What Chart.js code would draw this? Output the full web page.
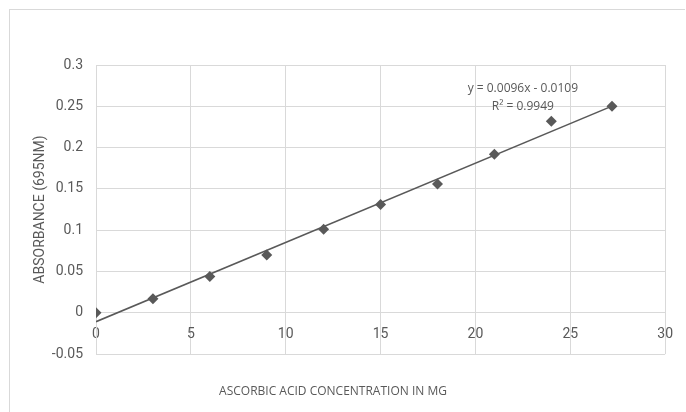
<!DOCTYPE html>
<html lang="en">
<head>
<meta charset="UTF-8">
<title>Ascorbic Acid Standard Curve</title>
<script src="https://cdn.jsdelivr.net/npm/chart.js"></script>
<style>
  body { margin: 0; background: #fff; }
  #wrap { position: relative; width: 686px; height: 412px; }
  #frame { position: absolute; left: 9px; top: 9px; width: 676px; height: 403px;
           border-top: 1px solid #d9d9d9; border-left: 1px solid #d9d9d9; box-sizing: border-box; }
</style>
</head>
<body>
<div id="wrap">
  <div id="frame"></div>
  <canvas id="chart1" width="686" height="412"></canvas>
</div>

<script>
  // concentration (mg) vs absorbance at 695nm
  const concentration = [0, 3, 6, 9, 12, 15, 18, 21, 24, 27.2];
  const absorbance = [0, 0.017, 0.044, 0.07, 0.101, 0.131, 0.156, 0.192, 0.232, 0.25];

  // linear trendline end points (y = 0.0096x - 0.0109)
  const trendX = [0, 27.2];
  const trendY = [-0.0109, 0.2502];
  const trendLabels = ['y = 0.0096x - 0.0109', 'R² = 0.9949'];

  const grey = '#595959';
  const gridGrey = '#d9d9d9';
  const tickFont = { family: "Roboto, 'Open Sans', sans-serif", size: 14 };

  // draws the trendline equation like Excel does
  const equationLabel = {
    id: 'equationLabel',
    afterDatasetsDraw(chart) {
      const { ctx, scales } = chart;
      const cx = scales.x.getPixelForValue(22.5);
      const y1 = scales.y.getPixelForValue(0.272);
      ctx.save();
      ctx.fillStyle = grey;
      ctx.font = "12px 'Open Sans', sans-serif";
      ctx.textAlign = 'center';
      ctx.textBaseline = 'middle';
      trendLabels.forEach((t, i) => ctx.fillText(t, cx, y1 + i * 18));
      ctx.restore();
    }
  };

  new Chart(document.getElementById('chart1'), {
    type: 'scatter',
    data: {
      datasets: [
        {
          label: 'Absorbance',
          data: concentration.map((c, i) => ({ x: c, y: absorbance[i] })),
          pointStyle: 'rectRot',
          pointRadius: 5.5,
          pointHoverRadius: 5.5,
          backgroundColor: grey,
          borderColor: grey,
          borderWidth: 0
        },
        {
          type: 'line',
          label: 'Linear',
          data: trendX.map((c, i) => ({ x: c, y: trendY[i] })),
          borderColor: grey,
          borderWidth: 1.6,
          pointRadius: 0,
          fill: false
        }
      ]
    },
    plugins: [equationLabel],
    options: {
      responsive: false,
      animation: false,
      layout: { padding: { left: 0, right: 20, top: 65, bottom: 10.6 } },
      plugins: {
        legend: { display: false },
        tooltip: { enabled: false },
        title: {
          display: true,
          position: 'bottom',
          text: 'ASCORBIC ACID CONCENTRATION IN MG',
          color: grey,
          font: { family: "'Open Sans', sans-serif", size: 12, weight: 'normal' },
          padding: { top: 30, bottom: 3 }
        }
      },
      scales: {
        x: {
          type: 'linear',
          position: { y: 0 },
          min: 0,
          max: 30,
          ticks: { stepSize: 5, color: grey, font: tickFont, padding: 13, maxRotation: 0 },
          grid: { color: gridGrey, drawTicks: false },
          border: { color: gridGrey }
        },
        y: {
          min: -0.05,
          max: 0.3,
          ticks: { stepSize: 0.05, color: grey, font: tickFont, padding: 13,
                   callback: v => +v.toFixed(2) },
          grid: { color: gridGrey, drawTicks: false },
          border: { color: gridGrey },
          title: {
            display: true,
            text: 'ABSORBANCE (695NM)',
            color: grey,
            font: { family: "Roboto, 'Open Sans', sans-serif", size: 14 },
            padding: { top: 31.6, bottom: 0 }
          },
          afterFit(scale) { scale.width = 96; }
        }
      }
    }
  });
</script>
</body>
</html>
